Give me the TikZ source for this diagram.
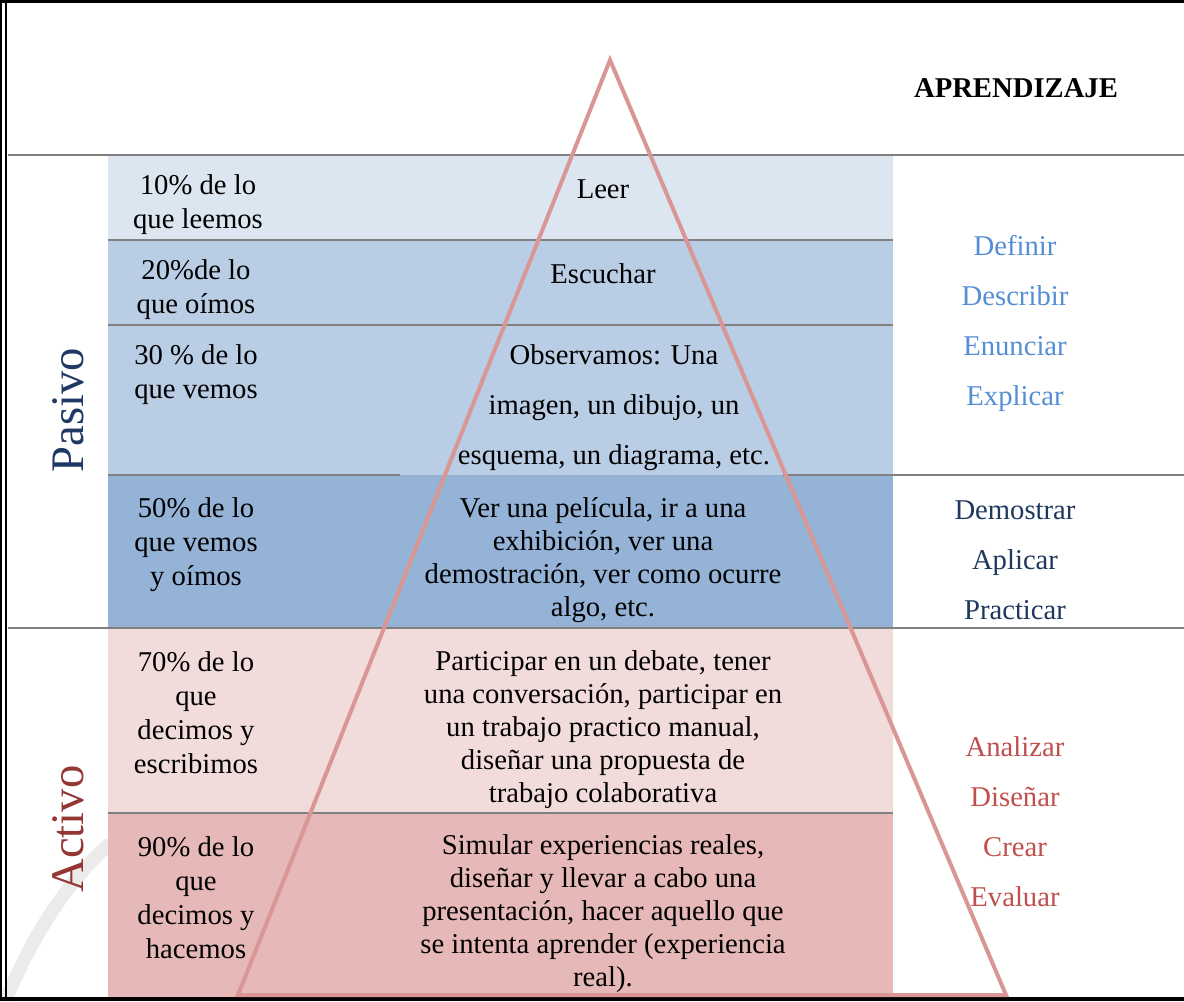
\documentclass[tikz,border=0pt]{standalone}
\usepackage{fontspec}
\setmainfont{Liberation Serif}
\definecolor{rowA}{RGB}{220,230,241}
\definecolor{rowB}{RGB}{185,205,229}
\definecolor{rowC}{RGB}{149,179,215}
\definecolor{rowD}{RGB}{242,220,219}
\definecolor{rowE}{RGB}{230,185,184}
\definecolor{tri}{RGB}{217,150,148}
\definecolor{gridc}{RGB}{128,128,128}
\definecolor{lblue}{RGB}{85,142,213}
\definecolor{navy}{RGB}{31,56,93}
\definecolor{lred}{RGB}{192,80,77}
\definecolor{pasc}{RGB}{31,56,100}
\definecolor{actc}{RGB}{148,54,52}
\begin{document}
\begin{tikzpicture}[x=0.75pt,y=-0.75pt,
  txt/.style={font=\fontsize{21.5}{25.5}\selectfont, align=center, inner sep=0pt},
  wide/.style={font=\fontsize{21.5}{37.5}\selectfont, align=center, inner sep=0pt},
  tight/.style={font=\fontsize{21.5}{24.75}\selectfont, align=center, inner sep=0pt},
  side/.style={font=\fontsize{35}{40}\selectfont, rotate=90, inner sep=0pt},
  gridline/.style={draw=gridc, line width=1.5pt},
  frame/.style={draw=black}]
\useasboundingbox (0,0) rectangle (1184,1001);
\fill[white] (0,0) rectangle (1184,1001);
% watermark swoosh
\draw[black!8, line width=10pt, line cap=round] (8,995) .. controls (35,930) and (70,880) .. (108,845);
% row fills
\fill[rowA] (108,155) rectangle (893,240);
\fill[rowB] (108,240) rectangle (893,475);
\fill[rowC] (108,475) rectangle (893,628);
\fill[rowD] (108,628) rectangle (893,813);
\fill[rowE] (108,813) rectangle (893,997);
% grid lines
\draw[gridline] (8,155) -- (1184,155);
\draw[gridline] (108,240) -- (893,240);
\draw[gridline] (108,325) -- (893,325);
\draw[gridline] (108,475) -- (400,475);
\draw[gridline] (783,475) -- (1184,475);
\draw[gridline] (8,628) -- (1184,628);
\draw[gridline] (108,813) -- (893,813);
% frame
\draw[frame, line width=2.25pt] (0,1.5) -- (1184,1.5);
\draw[frame, line width=3pt] (0,999) -- (1184,999);
\draw[frame, line width=1.5pt] (1,0) -- (1,1001);
\draw[frame, line width=1.5pt] (6,0) -- (6,1001);
% triangle
\coordinate (apex) at (610,60);
\coordinate (bl) at (238,995);
\coordinate (br) at (1006,995);
\draw[tri, line width=3pt, line join=miter] (apex) -- (bl) -- (br) -- cycle;
% header
\node[font=\fontsize{21.5}{25.5}\selectfont\bfseries, inner sep=0pt] (hdr) at (1016,88) {APRENDIZAJE};
% side labels
\node[side, text=pasc] (pas) at (68,410) {Pasivo};
\node[side, text=actc] (act) at (68,829) {Activo};
% left column
\node[txt] (l1) at (198,205) {10\% de lo\\que leemos};
\node[txt] (l2) at (196,290) {20\%de lo\\que oímos};
\node[txt] (l3) at (196,375) {30 \% de lo\\que vemos};
\node[txt] (l4) at (196,545) {50\% de lo\\que vemos\\y oímos};
\node[txt] (l5) at (196,713) {70\% de lo\\que\\decimos y\\escribimos};
\node[txt] (l6) at (196,898) {90\% de lo\\que\\decimos y\\hacemos};
% middle column
\node[txt] (m1) at (603,189) {Leer};
\node[txt] (m2) at (603,274) {Escuchar};
\node[wide] (m3) at (614,408) {Observamos: Una\\imagen, un dibujo, un\\esquema, un diagrama, etc.};
\node[tight] (m4) at (603,560) {Ver una película, ir a una\\exhibición, ver una\\demostración, ver como ocurre\\algo, etc.};
\node[tight] (m5) at (603,730) {Participar en un debate, tener\\una conversación, participar en\\un trabajo practico manual,\\diseñar una propuesta de\\trabajo colaborativa};
\node[tight] (m6) at (603,914) {Simular experiencias reales,\\diseñar y llevar a cabo una\\presentación, hacer aquello que\\se intenta aprender (experiencia\\real).};
% right column
\node[wide, text=lblue] (r1) at (1015,323) {Definir\\Describir\\Enunciar\\Explicar};
\node[wide, text=navy] (r2) at (1015,560) {Demostrar\\Aplicar\\Practicar};
\node[wide, text=lred] (r3) at (1015,822) {Analizar\\Diseñar\\Crear\\Evaluar};
\end{tikzpicture}
\end{document}
